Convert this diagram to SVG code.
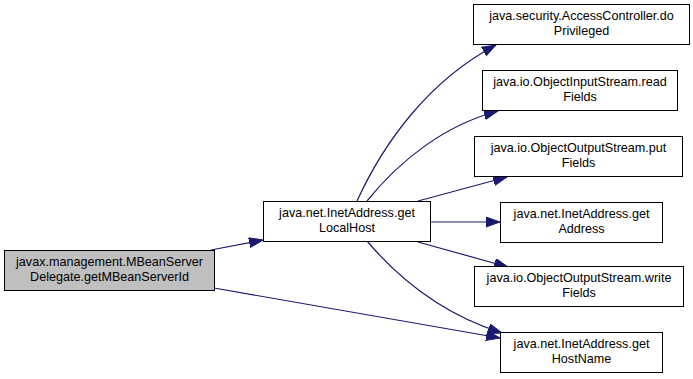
<svg xmlns="http://www.w3.org/2000/svg" width="693" height="379" viewBox="0 0 693 379">
  <style>
    .box { fill: #ffffff; stroke: #000000; stroke-width: 1; }
    .cur { fill: #bfbfbf; stroke: #000000; stroke-width: 1; }
    .lbl { font-family: "Liberation Sans", Arial, sans-serif; font-size: 12.6px; fill: #000000; text-anchor: middle; }
    .edge { fill: none; stroke: #191970; stroke-width: 1.2; marker-end: url(#arrow); }
  </style>
  <defs>
    <marker id="arrow" markerUnits="userSpaceOnUse" markerWidth="16" markerHeight="12" refX="14" refY="5" orient="auto">
      <path d="M0,0 L14,5 L0,10 z" fill="#191970" stroke="#191970" stroke-width="1"/>
    </marker>
  </defs>
  <rect width="693" height="379" fill="#ffffff"/>

  <g id="edges">
    <path class="edge" d="M211,250 L263,240"/>
    <path class="edge" d="M214,288 L500,338"/>
    <path class="edge" d="M357,201 C385,140 430,80 496,45"/>
    <path class="edge" d="M367,201 C400,160 445,125 498,111"/>
    <path class="edge" d="M418,201 L507,177"/>
    <path class="edge" d="M430,222 L500,222"/>
    <path class="edge" d="M418,242 L508,267"/>
    <path class="edge" d="M367,241 C400,280 445,315 502,333"/>
  </g>

  <g id="node-getMBeanServerId">
    <rect class="cur" x="4.5" y="250.5" width="210" height="40"/>
    <text class="lbl" x="109.5" y="266">javax.management.MBeanServer</text>
    <text class="lbl" x="109.5" y="281">Delegate.getMBeanServerId</text>
  </g>
  <g id="node-getLocalHost">
    <rect class="box" x="263.5" y="201.5" width="167" height="40"/>
    <text class="lbl" x="347" y="217">java.net.InetAddress.get</text>
    <text class="lbl" x="347" y="232">LocalHost</text>
  </g>
  <g id="node-doPrivileged">
    <rect class="box" x="473.5" y="4.5" width="216" height="40"/>
    <text class="lbl" x="581.5" y="20">java.security.AccessController.do</text>
    <text class="lbl" x="581.5" y="35">Privileged</text>
  </g>
  <g id="node-readFields">
    <rect class="box" x="482.5" y="70.5" width="195" height="40"/>
    <text class="lbl" x="580" y="86">java.io.ObjectInputStream.read</text>
    <text class="lbl" x="580" y="101">Fields</text>
  </g>
  <g id="node-putFields">
    <rect class="box" x="474.5" y="136.5" width="208" height="40"/>
    <text class="lbl" x="578.5" y="152">java.io.ObjectOutputStream.put</text>
    <text class="lbl" x="578.5" y="167">Fields</text>
  </g>
  <g id="node-getAddress">
    <rect class="box" x="500.5" y="202.5" width="162" height="40"/>
    <text class="lbl" x="581.5" y="218">java.net.InetAddress.get</text>
    <text class="lbl" x="581.5" y="233">Address</text>
  </g>
  <g id="node-writeFields">
    <rect class="box" x="474.5" y="266.5" width="209" height="40"/>
    <text class="lbl" x="579" y="282">java.io.ObjectOutputStream.write</text>
    <text class="lbl" x="579" y="297">Fields</text>
  </g>
  <g id="node-getHostName">
    <rect class="box" x="500.5" y="332.5" width="162" height="40"/>
    <text class="lbl" x="581.5" y="348">java.net.InetAddress.get</text>
    <text class="lbl" x="581.5" y="363">HostName</text>
  </g>
</svg>
